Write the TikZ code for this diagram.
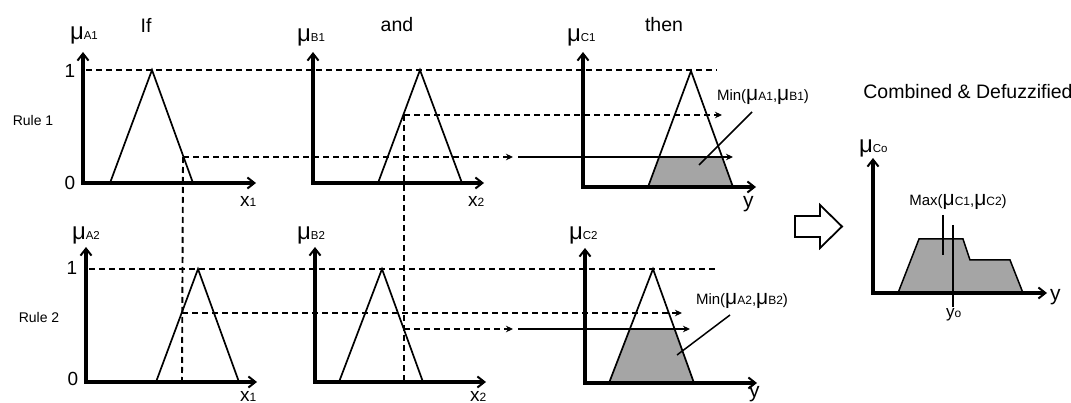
\documentclass[tikz,border=0pt]{standalone}
\usepackage{fontspec}
\setmainfont{Liberation Sans}
\usetikzlibrary{arrows.meta}
\definecolor{areagray}{RGB}{165,165,165}
% membership symbol with a small index: big mu, small subscript on the same baseline
\newcommand{\muax}[1]{{\fontsize{24}{24}\selectfont μ}{\fontsize{11.5}{11.5}\selectfont #1}}
\newcommand{\musm}[1]{{\fontsize{21}{21}\selectfont μ}{\fontsize{12}{12}\selectfont #1}}
\newcommand{\varsub}[2]{{\fontsize{19}{19}\selectfont #1}{\fontsize{12}{12}\selectfont #2}}
\begin{document}
\begin{tikzpicture}[x=1pt,y=-1pt,
  axisline/.style={line width=3.2pt, line join=miter,
    {Straight Barb[length=7pt,width=11pt,line width=2pt]}-{Straight Barb[length=7pt,width=11pt,line width=2pt]}},
  tri/.style={line width=1.7pt, line join=miter},
  guide/.style={line width=1.9pt, dash pattern=on 6pt off 4pt},
  guidearrow/.style={guide, -{Stealth[length=7pt,width=6.5pt]}},
  flow/.style={line width=1.5pt, -{Stealth[length=7pt,width=6.5pt]}},
  area/.style={fill=areagray, draw=black, line width=1.5pt, line join=miter},
  lbl/.style={inner sep=0pt, outer sep=0pt},
  head/.style={lbl, font=\fontsize{19.5}{19.5}\selectfont},
  rulelbl/.style={lbl, font=\fontsize{14}{14}\selectfont},
  tick/.style={lbl, font=\fontsize{19}{19}\selectfont},
  note/.style={lbl, font=\fontsize{15}{15}\selectfont},
  leader/.style={line width=1.5pt}]
\useasboundingbox (0,0) rectangle (1071,403);

% ---------- column headings ----------
\node[head] (hif)   at (146,25) {If};
\node[head] (hand)  at (397,25) {and};
\node[head] (hthen) at (664,25) {then};
\node[head] (hcomb) at (968,92) {Combined \& Defuzzified};
\node[rulelbl] (r1) at (33,120) {Rule 1};
\node[rulelbl] (r2) at (39,317) {Rule 2};

% ---------- Rule 1 ----------
% consequent area (min of the two memberships)
\fill[areagray] (648,187) -- (659,157) -- (722,157) -- (733,187) -- cycle;

\draw[axisline] (83,52) |- (256,183);
\draw[axisline] (313,52) |- (484,183);
\draw[axisline] (583,52) |- (756,187);

\draw[tri] (110,183) -- (152,70) -- (193,183);
\draw[tri] (378,183) -- (420,70) -- (462,183);
\draw[tri] (648,187) -- (691,71) -- (733,187);

\coordinate (a1cut) at (183,157);
\coordinate (b1cut) at (404,115);
\draw[guide] (86,70) -- (717,70);
\draw[guidearrow] (a1cut) -- (513,157);
\draw[flow] (518,157) -- (733,157);
\draw[guidearrow] (b1cut) -- (722,115);

\node[tick] (one1)  at (70,71)  {1};
\node[tick] (zero1) at (70,183) {0};
\node[lbl, anchor=base west] (mua1) at (70,40)  {\muax{A1}};
\node[lbl, anchor=base west] (mub1) at (297,42) {\muax{B1}};
\node[lbl, anchor=base west] (muc1) at (567,42) {\muax{C1}};
\node[lbl, anchor=base west] (x1a) at (240,207) {\varsub{x}{1}};
\node[lbl, anchor=base west] (x2a) at (468,207) {\varsub{x}{2}};
\node[lbl, anchor=base west, font=\fontsize{21}{21}\selectfont] (ya) at (743,208) {y};

\node[note] (min1) at (763,97) {Min(\musm{A1},\musm{B1})};
\draw[leader] (752,112) -- (699,165);

% ---------- Rule 2 ----------
\fill[areagray] (609,383) -- (630,329) -- (674.6,329) -- (694,383) -- cycle;

\draw[axisline] (86,247) |- (257,382);
\draw[axisline] (315,247) |- (486,382);
\draw[axisline] (585,248) |- (757,383);

\draw[tri] (156,382) -- (198,269) -- (239,382);
\draw[tri] (339,382) -- (382,269) -- (423,382);
\draw[tri] (609,383) -- (653,269) -- (694,383);

\coordinate (a2cut) at (182,313);
\coordinate (b2cut) at (404,329);
\draw[guide] (a1cut) -- (182,382);
\draw[guide] (b1cut) -- (404,382);
\draw[guide] (89,269) -- (717,269);
\draw[guidearrow] (a2cut) -- (682,313);
\draw[guidearrow] (b2cut) -- (513,329);
\draw[flow] (518,329) -- (690,329);

\node[tick] (one2)  at (72,268) {1};
\node[tick] (zero2) at (73,379) {0};
\node[lbl, anchor=base west] (mua2) at (72,240)  {\muax{A2}};
\node[lbl, anchor=base west] (mub2) at (297,240) {\muax{B2}};
\node[lbl, anchor=base west] (muc2) at (569,240) {\muax{C2}};
\node[lbl, anchor=base west] (x1b) at (240,401) {\varsub{x}{1}};
\node[lbl, anchor=base west] (x2b) at (470,401) {\varsub{x}{2}};
\node[lbl, anchor=base west, font=\fontsize{21}{21}\selectfont] (yb) at (749,397) {y};

\node[note] (min2) at (742,301) {Min(\musm{A2},\musm{B2})};
\draw[leader] (730,315) -- (677,355);

% ---------- implication arrow ----------
\draw[line width=1.8pt, line join=miter] (795,216) -- (820,216) -- (820,205) -- (842,226.5)
  -- (820,248) -- (820,237) -- (795,237) -- cycle;

% ---------- combined output ----------
\draw[area] (898,293) -- (919,239) -- (963,239) -- (970,260) -- (1010,260) -- (1023,293);
\draw[axisline] (873,158) |- (1047,293);
\node[lbl, anchor=base west] (muco) at (859,153) {\muax{Co}};
\node[lbl, anchor=base west, font=\fontsize{21}{21}\selectfont] (yc) at (1050,301) {y};
\node[note] (maxl) at (958,202) {Max(\musm{C1},\musm{C2})};
\draw[leader] (943,215) -- (943,255);
\coordinate (ytop) at (953,225);
\node[lbl, anchor=base west] (y0) at (946,318) {{\fontsize{17}{17}\selectfont y}{\fontsize{12}{12}\selectfont o}};
\draw[leader] (ytop) -- (953,307);
\end{tikzpicture}
\end{document}
